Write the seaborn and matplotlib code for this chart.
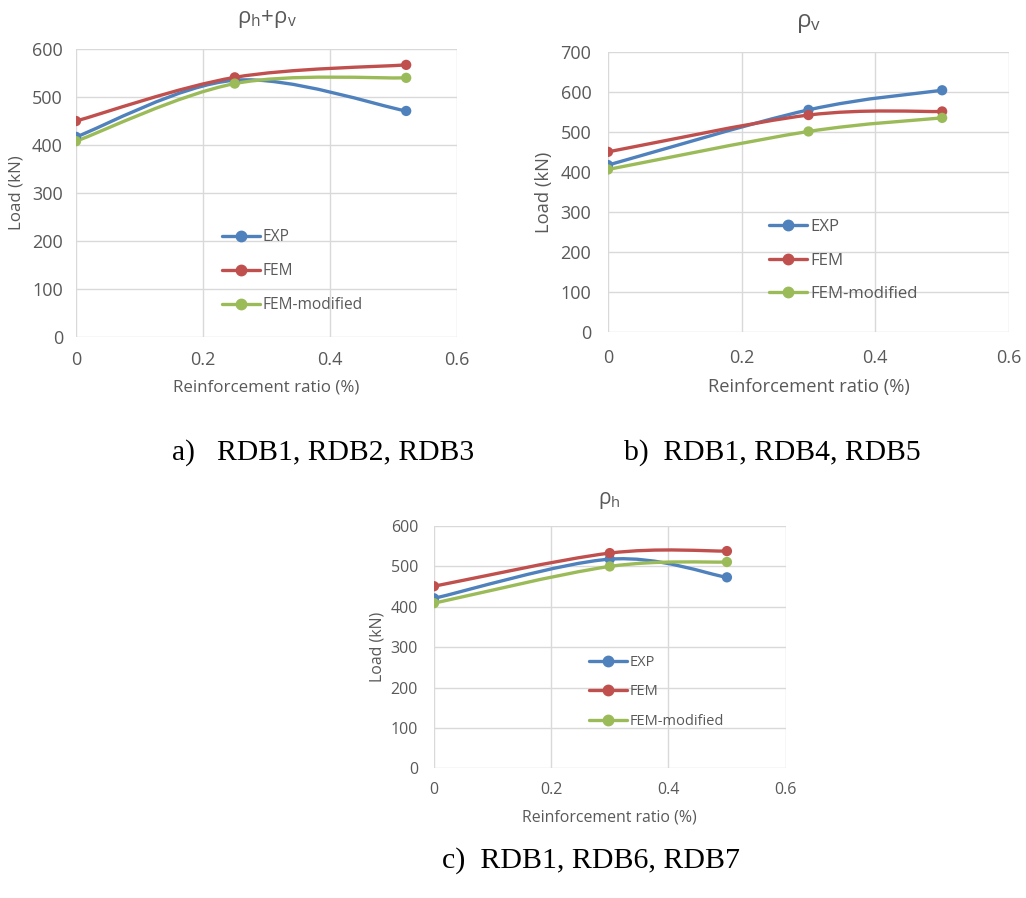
import numpy as np
import pandas as pd
import matplotlib
matplotlib.use('Agg')
import matplotlib.pyplot as plt
import seaborn as sns
from matplotlib.path import Path
from matplotlib.patches import PathPatch
from matplotlib.lines import Line2D

series_names = ['EXP', 'FEM', 'FEM-modified']
colors = ['#4f81bd', '#c0504d', '#9bbb59']

x_a = [0, 0.25, 0.52]
exp_a = [417, 535, 471]
fem_a = [450, 541, 567]
femmod_a = [408, 528, 540]

x_b = [0, 0.3, 0.5]
exp_b = [418, 556, 605]
fem_b = [451, 543, 552]
femmod_b = [407, 502, 536]

x_c = [0, 0.3, 0.5]
exp_c = [421, 518, 473]
fem_c = [451, 533, 538]
femmod_c = [409, 500, 511]

xticks = [0, 0.2, 0.4, 0.6]
xtick_labels = ['0', '0.2', '0.4', '0.6']

sns.set_theme(style='whitegrid')
plt.rcParams['font.family'] = ['Open Sans', 'DejaVu Sans']
plt.rcParams['mathtext.default'] = 'regular'

GRAY = '#595959'
GRID = '#d9d9d9'


def smooth_path(xs, ys):
    pts = np.column_stack([xs, ys]).astype(float)
    n = len(pts)
    verts = [pts[0]]
    codes = [Path.MOVETO]
    for i in range(n - 1):
        p0 = pts[i - 1] if i > 0 else pts[i]
        p1 = pts[i]
        p2 = pts[i + 1]
        p3 = pts[i + 2] if i + 2 < n else pts[i + 1]
        c1 = p1 + (p2 - p0) / 6.0
        c2 = p2 - (p3 - p1) / 6.0
        verts += [c1, c2, p2]
        codes += [Path.CURVE4] * 3
    return Path(verts, codes)


def draw(ax, xs, ys_list, ytop, title, leg_xy, fs_tick, fs_lab, fs_leg, fs_title,
         xpad, ypad, lab_x, lab_y, lspacing):
    rows = []
    for name, ys in zip(series_names, ys_list):
        for xv, yv in zip(xs, ys):
            rows.append({'ratio': xv, 'load': yv, 'series': name})
    df = pd.DataFrame(rows)
    for ys, c in zip(ys_list, colors):
        ax.add_patch(PathPatch(smooth_path(xs, ys), fill=False, edgecolor=c,
                               lw=2.4, capstyle='round', joinstyle='round', zorder=3))
    sns.scatterplot(data=df, x='ratio', y='load', hue='series', palette=colors,
                    s=55, linewidth=0, legend=False, ax=ax, zorder=4)
    ax.set_xlim(0, 0.6)
    ax.set_ylim(0, ytop)
    ax.set_xticks(xticks)
    ax.set_xticklabels(xtick_labels)
    ax.set_yticks(np.arange(0, ytop + 1, 100))
    ax.grid(True, color=GRID, lw=1.0)
    for s in ax.spines.values():
        s.set_visible(False)
    ax.tick_params(axis='both', length=0, colors=GRAY, labelsize=fs_tick)
    ax.tick_params(axis='x', pad=xpad)
    ax.tick_params(axis='y', pad=ypad)
    ax.set_xlabel('Reinforcement ratio (%)', fontsize=fs_lab, color=GRAY)
    ax.set_ylabel('Load (kN)', fontsize=fs_lab, color=GRAY)
    ax.xaxis.set_label_coords(0.5, lab_x)
    ax.xaxis.label.set_verticalalignment('center')
    ax.yaxis.set_label_coords(lab_y, 0.5)
    ax.yaxis.label.set_verticalalignment('center')
    ax.yaxis.label.set_horizontalalignment('center')
    ax.text(0.5, 1.105, title, transform=ax.transAxes, ha='center', va='center',
            fontsize=fs_title, color=GRAY)
    handles = [Line2D([0], [0], color=c, lw=2.4, marker='o', markersize=7.5)
               for c in colors]
    ax.legend(handles, series_names, loc='center left', bbox_to_anchor=leg_xy,
              frameon=False, fontsize=fs_leg, handlelength=2.6 * 10.5 / fs_leg,
              handletextpad=0.2, labelspacing=lspacing, borderpad=0,
              borderaxespad=0, labelcolor=GRAY)


fig = plt.figure(figsize=(10.26, 8.98), dpi=100)
ax_a = fig.add_axes([0.0741, 0.6247, 0.3713, 0.3207])
ax_b = fig.add_axes([0.5926, 0.6300, 0.3908, 0.3118])
ax_c = fig.add_axes([0.4230, 0.1444, 0.3426, 0.2698])

draw(ax_a, x_a, [exp_a, fem_a, femmod_a], 600, 'ρ$_{h}$+ρ$_{v}$',
     (0.383, 0.229), 13, 12.2, 11.2, 16, 10, 9.4, -0.174, -0.155, 1.15)
draw(ax_b, x_b, [exp_b, fem_b, femmod_b], 700, 'ρ$_{v}$',
     (0.401, 0.256), 13, 13.2, 12.1, 17.5, 12, 12, -0.195, -0.16, 1.05)
draw(ax_c, x_c, [exp_c, fem_c, femmod_c], 600, 'ρ$_{h}$',
     (0.441, 0.316), 11.5, 11.4, 10.5, 15, 10, 11.5, -0.201, -0.16, 1.0)

cap_font = ['Liberation Serif', 'DejaVu Serif']
fig.text(0.3153, 1 - 453 / 898, 'a)   RDB1, RDB2, RDB3', ha='center', va='center',
         fontsize=21.3, family=cap_font, color='black')
fig.text(0.7524, 1 - 453 / 898, 'b)  RDB1, RDB4, RDB5', ha='center', va='center',
         fontsize=21.3, family=cap_font, color='black')
fig.text(0.576, 1 - 861 / 898, 'c)  RDB1, RDB6, RDB7', ha='center', va='center',
         fontsize=21.5, family=cap_font, color='black')

fig.savefig('out.png', dpi=100, facecolor='white')
